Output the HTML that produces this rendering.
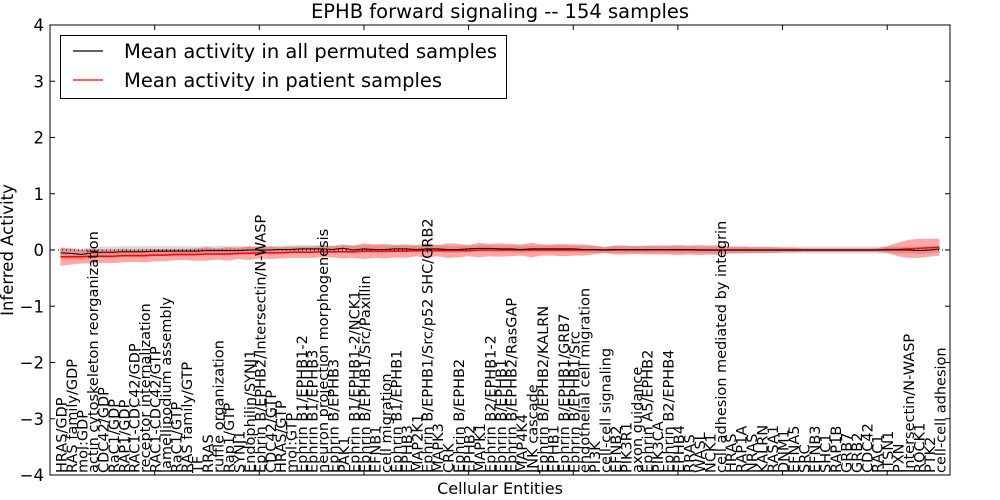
<!DOCTYPE html>
<html><head><meta charset="utf-8"><style>
body{margin:0;background:#fff}
svg{display:block;font-family:"DejaVu Sans","Liberation Sans",sans-serif}
</style></head><body>
<svg id="chart" width="1000" height="500">
<rect width="1000" height="500" fill="#fff"/>
<text x="500" y="18" font-size="19.5" text-anchor="middle">EPHB forward signaling -- 154 samples</text>
<text transform="translate(13,250) rotate(-90)" font-size="16.5" text-anchor="middle">Inferred Activity</text>
<text x="500" y="494" font-size="16" text-anchor="middle">Cellular Entities</text>
<g id="plot"></g>
</svg>
<script>
const categories = ["HRAS/GDP","RAS family/GDP","mol:GDP","actin cytoskeleton reorganization","CDC42/GDP","RaC1/GDP","RAP1/GDP","RAC1-CDC42/GDP","receptor internalization","RAC1-CDC42/GTP","lamellipodium assembly","RaC1/GTP","RAS family/GTP","TF","RRAS","ruffle organization","Rap1/GTP","SYNJ1","Endophilin/SYNJ1","Ephrin B/EPHB2/Intersectin/N-WASP","CDC42/GTP","HRAS/GTP","mol:GTP","Ephrin B1/EPHB1-2","Ephrin B1/EPHB3","neuron projection morphogenesis","Ephrin B/EPHB3","PAK1","Ephrin B1/EPHB1-2/NCK1","Ephrin B/EPHB1/Src/Paxillin","EFNB1","cell migration","Ephrin B1/EPHB1","EPHB3","MAP2K1","Ephrin B/EPHB1/Src/p52 SHC/GRB2","MAPK3","CRK","Ephrin B/EPHB2","EPHB2","MAPK1","Ephrin B2/EPHB1-2","Ephrin B/EPHB1","Ephrin B/EPHB2/RasGAP","MAP4K4","JNK cascade","Ephrin B/EPHB2/KALRN","EPHB1","Ephrin B/EPHB1/GRB7","Ephrin B/EPHB1/Src","endothelial cell migration","PI3K","cell-cell signaling","EFNB2","PIK3R1","axon guidance","Ephrin A5/EPHB2","PIK3CA","Ephrin B2/EPHB4","EPHB4","RRAS","WASL","NCK1","cell adhesion mediated by integrin","HRAS","RAP1A","NRAS","KALRN","RASA1","DNM1","EFNA5","SRC","EFNB3","SHC1","RAP1B","GRB7","GRB2","CDC42","RAC1","ITSN1","PXN","Intersectin/N-WASP","ROCK1","PTK2","cell-cell adhesion"];
const permutedMean = [-0.05,-0.06,-0.08,-0.05,-0.04,-0.04,-0.03,-0.03,-0.03,-0.02,-0.02,-0.02,-0.02,-0.02,-0.01,-0.01,-0.01,-0.01,0,0,0,0.01,0.01,0.02,0.02,0.02,0.01,0.03,0,0.02,0.01,0.01,0.02,0.02,0.01,0.02,0.02,0.01,0.01,0.02,0.03,0.03,0.02,0.02,0.01,0.02,0.02,0.02,0.02,0.02,0.01,0.01,0,0.01,0.01,0.01,0.01,0.01,0.01,0.01,0.01,0,0,0,0,0,0,0,0,0,0,0,0,0,0,0,0,0,0,0,0,0,-0.01,0,0.02];
const permutedSpread = [0.1,0.1,0.1,0.1,0.1,0.1,0.1,0.1,0.1,0.09,0.09,0.09,0.09,0.08,0.08,0.08,0.08,0.08,0.07,0.07,0.07,0.07,0.07,0.07,0.07,0.07,0.07,0.07,0.07,0.07,0.07,0.07,0.06,0.06,0.06,0.06,0.06,0.06,0.06,0.06,0.06,0.06,0.06,0.06,0.06,0.06,0.06,0.06,0.06,0.06,0.06,0.06,0.06,0.06,0.06,0.06,0.06,0.06,0.06,0.06,0.06,0.06,0.06,0.06,0.06,0.06,0.06,0.06,0.06,0.06,0.06,0.06,0.06,0.06,0.06,0.06,0.06,0.06,0.06,0.06,0.06,0.06,0.06,0.06,0.06];
const patientMean = [-0.12,-0.12,-0.12,-0.11,-0.11,-0.11,-0.1,-0.1,-0.1,-0.09,-0.09,-0.08,-0.08,-0.08,-0.07,-0.07,-0.07,-0.06,-0.06,-0.05,-0.05,-0.05,-0.04,-0.04,-0.04,-0.03,-0.03,-0.03,-0.03,-0.02,-0.02,-0.02,-0.02,-0.02,-0.01,-0.01,-0.01,-0.01,-0.01,-0.01,0,0,0,0,0,0,0,0,0,0,0,0,0,0,0,0,0,0,0,0,0,0,0,0,0,0,0,0,0,0,0,0,0,0,0,0,0,0,0,0.01,0.01,0.02,0.03,0.04,0.05];
const patientSpread = [0.16,0.14,0.12,0.13,0.12,0.12,0.12,0.11,0.12,0.11,0.11,0.1,0.1,0.11,0.12,0.1,0.12,0.1,0.12,0.1,0.11,0.1,0.1,0.1,0.1,0.1,0.1,0.12,0.11,0.14,0.12,0.13,0.11,0.12,0.1,0.13,0.1,0.13,0.12,0.1,0.13,0.11,0.12,0.11,0.1,0.13,0.1,0.1,0.11,0.1,0.1,0.08,0.05,0.08,0.08,0.07,0.08,0.08,0.08,0.09,0.08,0.09,0.08,0.09,0.06,0.06,0.05,0.05,0.05,0.04,0.04,0.03,0.03,0.03,0.03,0.03,0.03,0.03,0.03,0.06,0.12,0.16,0.17,0.16,0.15];
const yTicks = [4,3,2,1,0,-1,-2,-3,-4];
const yTickLabels = ["4","3","2","1","0","\u22121","\u22122","\u22123","\u22124"];

const NS="http://www.w3.org/2000/svg";
const L=50,R=950,T=25,B=475;
const xs=v=>L+(v)*(R-L)/86;
const ys=v=>T+(4-v)*(B-T)/8;
const g=document.getElementById('plot');
function mk(t,a){const e=document.createElementNS(NS,t);for(const k in a)e.setAttribute(k,a[k]);g.appendChild(e);return e;}
function band(mean,spread,fill,name){
  let up=mean.map((m,i)=>xs(i+1)+','+ys(m+spread[i]));
  let dn=mean.map((m,i)=>xs(i+1)+','+ys(m-spread[i])).reverse();
  const p=mk('polygon',{points:up.concat(dn).join(' '),fill:fill,stroke:'none'});
  
  
}
function line(mean,color,name,w){
  const p=mk('polyline',{points:mean.map((m,i)=>xs(i+1)+','+ys(m)).join(' '),fill:'none',stroke:color,'stroke-width':w});
  
  
}
band(permutedMean,permutedSpread,'rgba(150,150,150,0.35)','permuted-band');
band(patientMean,patientSpread,'rgba(255,0,0,0.35)','patient-band');
const zl=mk('line',{x1:L,x2:R,y1:ys(0),y2:ys(0),stroke:'#000','stroke-dasharray':'1,3','stroke-width':1});


line(patientMean,'#f00','patient-mean-line',1.5);
line(permutedMean,'#000','permuted-mean-line',1);
yTicks.forEach((v,i)=>{
  const y=ys(v);
  const t1=mk('line',{x1:L,x2:L+5,y1:y,y2:y,stroke:'#000'});
  
  
  const t2=mk('line',{x1:R-5,x2:R,y1:y,y2:y,stroke:'#000'});
  
  
  const tx=mk('text',{x:L-6,y:y+6,'font-size':16.5,'text-anchor':'end'});
  tx.textContent=yTickLabels[i];
  
  
});
for(let v=10;v<86;v+=10){
  const a=mk('line',{x1:xs(v),x2:xs(v),y1:T,y2:T+5,stroke:'#000'});
  
  
  const b=mk('line',{x1:xs(v),x2:xs(v),y1:B,y2:B-5,stroke:'#000'});
  
  
}
categories.forEach((c,i)=>{
  const x=xs(i+1);
  const t=mk('text',{transform:`translate(${x+6},${B-2}) rotate(-90)`,'font-size':14.5});
  t.textContent=c;
  
  
});
const fr=mk('rect',{x:L,y:T,width:R-L,height:B-T,fill:'none',stroke:'#000','stroke-width':1});


const lg=mk('rect',{x:60.5,y:35.5,width:446,height:63,fill:'#fff',stroke:'#000'});


[['#000','Mean activity in all permuted samples',51],['#f00','Mean activity in patient samples',80]].forEach(([c,s,y],i)=>{
  const l=mk('line',{x1:73,x2:103,y1:y,y2:y,stroke:c,'stroke-width':1.2});
  
  
  const t=mk('text',{x:124,y:y+7,'font-size':19.5});
  t.textContent=s;
  
  
});
</script>
</body></html>
